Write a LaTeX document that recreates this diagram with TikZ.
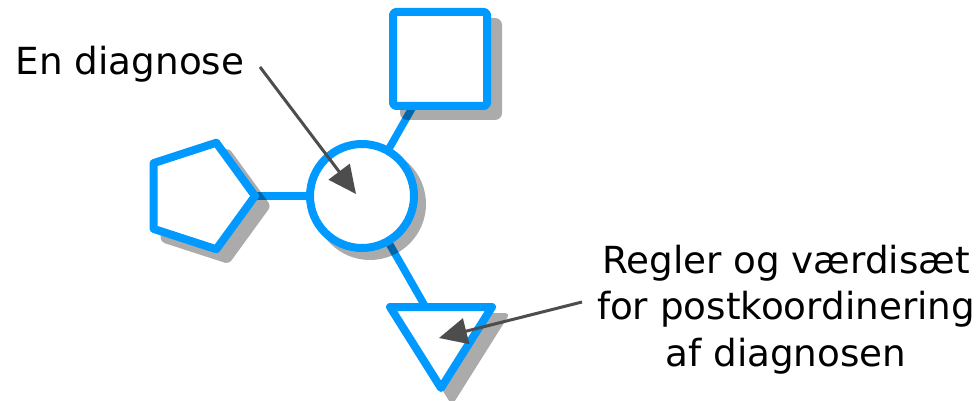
\documentclass[tikz,border=0pt]{standalone}
\usepackage{fontspec}
\setmainfont{DejaVu Sans}
\usetikzlibrary{shapes.geometric,arrows.meta}
\definecolor{blu}{HTML}{0099FF}
\definecolor{ptr}{HTML}{4D4D4D}
\pgfdeclarelayer{bgl}
\pgfdeclarelayer{shl}
\pgfsetlayers{bgl,shl,main}
\begin{document}
\begin{tikzpicture}[x=1pt,y=-1pt,
  shp/.style={draw=blu, line width=8pt, fill=white, line join=round, inner sep=0pt, outer sep=0pt},
  shd/.style={fill=black, fill opacity=0.33, draw=none, inner sep=0pt, outer sep=0pt},
  conn/.style={draw=blu, line width=7.5pt},
  pointer/.style={draw=ptr, line width=3pt, -{Triangle[length=28pt,width=26pt]}},
  lbl/.style={font=\fontsize{37.3}{46.8}\selectfont, inner sep=0pt, text=black}]
\useasboundingbox (0,0) rectangle (979,401);
% shapes
\node[shp, circle, minimum size=104pt] (circ) at (362,196) {};
\node[shp, rectangle, minimum size=94pt, rounded corners=3pt] (sq) at (440,59) {};
\node[shp, regular polygon, regular polygon sides=5, shape border rotate=-90, minimum size=112pt] (pent) at (199,196) {};
\draw[shp] (390,307) -- (492,307) -- (441,388) -- cycle;
\coordinate (tri) at (441,334);
% shadows
\begin{pgfonlayer}{shl}
\node[shd, circle, minimum size=112pt] (circsh) at (370,204) {};
\node[shd, rectangle, minimum size=102pt, rounded corners=7pt] (sqsh) at (451,69) {};
\node[shd, regular polygon, regular polygon sides=5, shape border rotate=-90, minimum size=122pt, rounded corners=4pt] (pentsh) at (210,206) {};
\fill[black, fill opacity=0.33, rounded corners=5pt] (393.8,313) -- (510.2,313) -- (452,405.5) -- cycle;
\end{pgfonlayer}
% connectors
\begin{pgfonlayer}{bgl}
\draw[conn] (pent) -- (circ);
\draw[conn] (circ) -- (sq);
\draw[conn] (circ) -- (tri);
\end{pgfonlayer}
% labels
\node[lbl, anchor=base west] (lab1) at (15.5,75) {En diagnose};
\node[lbl, align=center, anchor=north] (lab2) at (786,244.5) {Regler og værdisæt\\for postkoordinering\\af diagnosen};
% pointers
\coordinate (t1) at (260,67);
\coordinate (h1) at (356,194);
\coordinate (t2) at (582,302);
\coordinate (h2) at (439,338);
\draw[pointer] (t1) -- (h1);
\draw[pointer] (t2) -- (h2);
\end{tikzpicture}
\end{document}
